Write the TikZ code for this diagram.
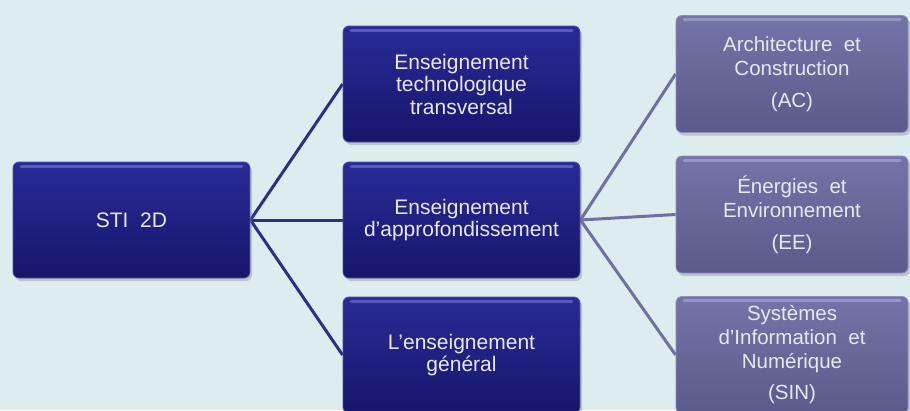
\documentclass[tikz,border=0pt]{standalone}
\usepackage{fontspec}
\setmainfont{Liberation Sans}
\usetikzlibrary{shadows,backgrounds}
\pgfdeclarelayer{deepback}
\pgfsetlayers{deepback,background,main}
\definecolor{bg}{RGB}{221,236,239}
\definecolor{navyT}{RGB}{42,42,152}
\definecolor{navyB}{RGB}{22,22,108}
\definecolor{navyE}{RGB}{80,80,170}
\definecolor{navyH}{RGB}{110,110,200}
\definecolor{lavT}{RGB}{116,116,168}
\definecolor{lavB}{RGB}{90,90,140}
\definecolor{lavE}{RGB}{140,140,190}
\definecolor{lavH}{RGB}{165,165,210}
\definecolor{linkA}{RGB}{46,46,135}
\definecolor{linkB}{RGB}{112,112,160}
\definecolor{txt}{RGB}{232,232,240}
\tikzset{
  basebox/.style={rounded corners=6pt, align=center, text=txt,
    line width=0.8pt, inner sep=2pt,
    drop shadow={shadow xshift=2pt, shadow yshift=-3pt, opacity=0.35}},
  darkbox/.style={basebox, draw=navyE, top color=navyT, bottom color=navyB,
    font=\fontsize{21}{22.5}\selectfont,
    minimum width=237pt, minimum height=116pt,
    path picture={\draw[navyH, line width=3pt, line cap=round, opacity=0.7]
      ([xshift=8pt,yshift=-4pt]path picture bounding box.north west) --
      ([xshift=-8pt,yshift=-4pt]path picture bounding box.north east);}},
  lightbox/.style={basebox, draw=lavE, top color=lavT, bottom color=lavB,
    font=\fontsize{20.5}{24}\selectfont,
    minimum width=232pt, minimum height=117pt,
    path picture={\draw[lavH, line width=3pt, line cap=round, opacity=0.7]
      ([xshift=8pt,yshift=-4pt]path picture bounding box.north west) --
      ([xshift=-8pt,yshift=-4pt]path picture bounding box.north east);}},
  linkdark/.style={draw=linkA, line width=3pt},
  linklight/.style={draw=linkB, line width=3pt}
}
\begin{document}
\begin{tikzpicture}[x=1pt,y=-1pt]
\begin{pgfonlayer}{deepback}
\fill[bg] (0,0) rectangle (910,410);
\end{pgfonlayer}
\useasboundingbox (0,0) rectangle (910,410);
\clip (0,0) rectangle (910,410);
\node[darkbox] (sti) at (131.5,220) {STI\ \ 2D};
\node[darkbox] (ett) at (461.5,84) {Enseignement\\technologique\\transversal};
\node[darkbox] (ea) at (461.5,220) {Enseignement\\d’approfondissement};
\node[darkbox] (eg) at (461.5,355) {L’enseignement\\général};
\node[lightbox] (ac) at (792,74) {Architecture\ \ et\\Construction\\[8pt](AC)};
\node[lightbox] (ee) at (792,214.5) {Énergies\ \ et\\Environnement\\[8pt](EE)};
\node[lightbox] (sin) at (792,355) {Systèmes\\d’Information\ \ et\\Numérique\\[7pt](SIN)};
\begin{pgfonlayer}{background}
\draw[linkdark] (sti.east) -- (ett.west);
\draw[linkdark] (sti.east) -- (ea.west);
\draw[linkdark] (sti.east) -- (eg.west);
\draw[linklight] (ea.east) -- (ac.west);
\draw[linklight] (ea.east) -- (ee.west);
\draw[linklight] (ea.east) -- (sin.west);
\end{pgfonlayer}
\end{tikzpicture}
\end{document}
